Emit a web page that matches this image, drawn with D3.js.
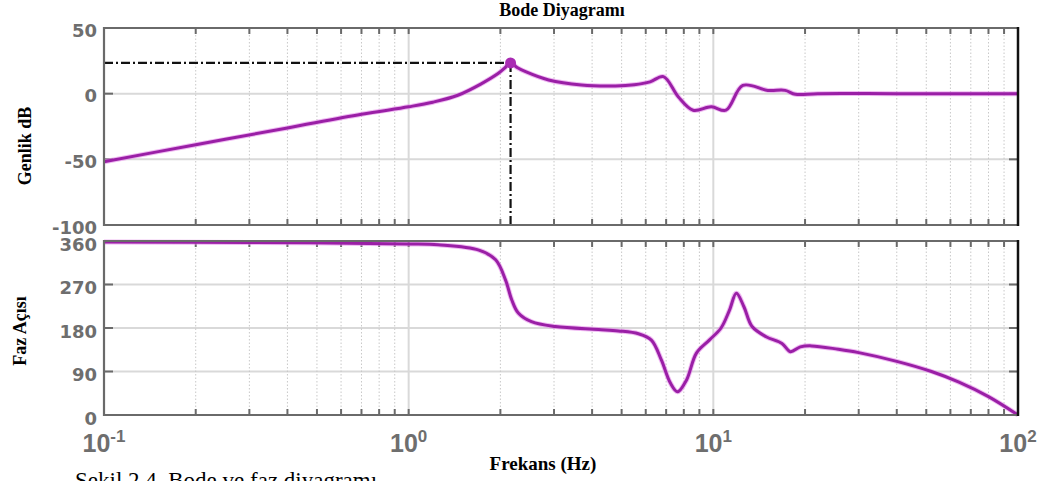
<!DOCTYPE html>
<html>
<head>
<meta charset="utf-8">
<script src="https://cdn.jsdelivr.net/npm/d3@7"></script>
<style>
  body { margin: 0; background: #fff; }
  svg { display: block; }
</style>
</head>
<body>
<div id="chart"></div>
<script>
// magnitude curve (Hz, dB)
const magFreq = [0.1, 0.2, 0.4, 0.7, 1.0, 1.2, 1.45, 1.73, 1.97, 2.06, 2.16, 2.27, 2.42, 2.88, 3.69, 4.77, 5.5, 6.2, 6.86, 7.68, 8.58, 9.85, 11.0, 12.5, 15.1, 17.2, 18.6, 22, 40, 100];
const magDb   = [-51.8, -38.9, -26.1, -15.7, -10, -6.5, -1.2, 7.5, 15.5, 19.2, 23.4, 19.9, 16.7, 10.4, 6.6, 5.9, 6.8, 9, 13, -2.5, -12.6, -10, -12.6, 6.3, 2.5, 2.5, -0.5, 0, 0, 0];

// phase curve (Hz, deg)
const phaseFreq = [0.1, 0.3, 1.0, 1.25, 1.7, 1.93, 2.08, 2.18, 2.29, 2.53, 3.03, 4.2, 4.88, 5.68, 6.26, 6.75, 7.23, 7.63, 8.16, 8.8, 9.7, 10.6, 11.3, 11.9, 12.6, 13.4, 14.9, 16.8, 17.9, 19.3, 21, 25.7, 30, 40, 52, 64, 80, 100];
const phaseDeg  = [358, 357, 354, 352, 341, 321, 279, 238, 211, 193, 183, 177, 174, 168, 155, 114, 66, 48, 72, 128, 155, 180, 217, 252, 224, 183, 162, 148, 131, 141, 143, 136, 129, 111, 90, 68, 38, 0];

const peakFreq = 2.16, peakDb = 23.4;

const magTicks = [50, 0, -50, -100];
const phaseTicks = [0, 90, 180, 270, 360];
const decades = [-1, 0, 1, 2];

const title = "Bode Diyagramı";
const magLabel = "Genlik dB";
const phaseLabel = "Faz Açısı";
const xLabel = "Frekans (Hz)";
const caption = "Şekil 2.4. Bode ve faz diyagramı";

var width = 1047, height = 481;
var left = 104, right = 1018;
var lineColor = "#9a1fa6";
var frameColor = "#6a6a6a";
var gridColor = "#d9d9d9";
var labelColor = "#6e6e6e";

var svg = d3.select("#chart").append("svg")
    .attr("width", width)
    .attr("height", height);

var x = d3.scaleLog().domain([0.1, 100]).range([left, right]);
var yMag = d3.scaleLinear().domain([-100, 50]).range([225, 28]);
var yPh = d3.scaleLinear().domain([0, 360]).range([415, 241]);

var minors = [];
for (let e = -1; e < 2; e++) {
    for (let k = 2; k <= 9; k++) minors.push(k * Math.pow(10, e));
}
var majors = [1, 10];

function panel(y, ticks, labelDy) {
    var g = svg.append("g");
    var y0 = y.range()[0], y1 = y.range()[1];

    g.selectAll(".hgrid").data(ticks.filter(t => y(t) > y1 + 2 && y(t) < y0 - 2)).join("line")
        .attr("x1", left).attr("x2", right)
        .attr("y1", d => y(d)).attr("y2", d => y(d))
        .attr("stroke", gridColor).attr("stroke-width", 2);

    g.selectAll(".minor").data(minors).join("line")
        .attr("x1", d => x(d)).attr("x2", d => x(d))
        .attr("y1", y1).attr("y2", y0)
        .attr("stroke", "#c8c8c8").attr("stroke-width", 1)
        .attr("stroke-dasharray", "1.5,2");

    g.selectAll(".major").data(majors).join("line")
        .attr("x1", d => x(d)).attr("x2", d => x(d))
        .attr("y1", y1).attr("y2", y0)
        .attr("stroke", gridColor).attr("stroke-width", 2);

    // inward ticks on all four sides
    var xt = minors.concat(majors);
    g.selectAll(".tb").data(xt).join("line")
        .attr("x1", d => x(d)).attr("x2", d => x(d))
        .attr("y1", y1).attr("y2", y1 + 6)
        .attr("stroke", frameColor).attr("stroke-width", 2);
    g.selectAll(".tt").data(xt).join("line")
        .attr("x1", d => x(d)).attr("x2", d => x(d))
        .attr("y1", y0).attr("y2", y0 - 6)
        .attr("stroke", frameColor).attr("stroke-width", 2);
    g.selectAll(".tl").data(ticks).join("line")
        .attr("x1", left).attr("x2", left + 9)
        .attr("y1", d => y(d)).attr("y2", d => y(d))
        .attr("stroke", frameColor).attr("stroke-width", 2);
    g.selectAll(".tr").data(ticks).join("line")
        .attr("x1", right).attr("x2", right - 9)
        .attr("y1", d => y(d)).attr("y2", d => y(d))
        .attr("stroke", frameColor).attr("stroke-width", 2);

    g.selectAll(".ylab").data(ticks).join("text")
        .attr("x", left - 7)
        .attr("y", d => y(d) + labelDy)
        .attr("text-anchor", "end")
        .style("font-family", "'DejaVu Sans', sans-serif")
        .style("font-weight", "bold")
        .style("font-size", "18px")
        .style("fill", labelColor)
        .text(d => d);

    return g;
}

var gMag = panel(yMag, magTicks, 8.5);
var gPh = panel(yPh, phaseTicks, 9.5);

// dash-dot guides to the peak
gMag.append("line")
    .attr("x1", left).attr("x2", x(peakFreq))
    .attr("y1", yMag(peakDb)).attr("y2", yMag(peakDb))
    .attr("stroke", "#111").attr("stroke-width", 2.2)
    .attr("stroke-dasharray", "9,3,2,3");
gMag.append("line")
    .attr("x1", x(peakFreq)).attr("x2", x(peakFreq))
    .attr("y1", yMag(peakDb)).attr("y2", yMag(-100))
    .attr("stroke", "#111").attr("stroke-width", 2.2)
    .attr("stroke-dasharray", "9,3,2,3");

function curve(g, fs, vs, y) {
    var pts = fs.map((f, i) => [f, vs[i]]);
    var line = d3.line()
        .x(d => x(d[0])).y(d => y(d[1]))
        .curve(d3.curveCatmullRom.alpha(0.5));
    g.append("path").attr("d", line(pts))
        .attr("fill", "none").attr("stroke", "#e58bea")
        .attr("stroke-width", 5).attr("opacity", 0.6);
    g.append("path").attr("d", line(pts))
        .attr("fill", "none").attr("stroke", lineColor)
        .attr("stroke-width", 3);
}
curve(gMag, magFreq, magDb, yMag);
curve(gPh, phaseFreq, phaseDeg, yPh);

gMag.append("circle")
    .attr("cx", x(peakFreq)).attr("cy", yMag(peakDb))
    .attr("r", 5.5).attr("fill", "#a92bb3");

// frames
[yMag, yPh].forEach(y => {
    var y0 = y.range()[0], y1 = y.range()[1];
    svg.append("path")
        .attr("d", `M${right},${y1}H${left}V${y0}H${right}`)
        .attr("fill", "none").attr("stroke", frameColor).attr("stroke-width", 2.2);
    svg.append("line")
        .attr("x1", right).attr("x2", right).attr("y1", y1 - 1).attr("y2", y0 + 1)
        .attr("stroke", "#111").attr("stroke-width", 2.5);
});

// x tick labels 10^n
var xl = svg.selectAll(".xlab").data(decades).join("text")
    .attr("x", d => x(Math.pow(10, d)))
    .attr("y", 452)
    .attr("text-anchor", "middle")
    .style("font-family", "'Liberation Sans', Arial, sans-serif")
    .style("font-weight", "bold")
    .style("font-size", "25px")
    .style("fill", labelColor);
xl.append("tspan").text("10");
xl.append("tspan").attr("dy", -10).style("font-size", "17px").text(d => d);

var serif = "'Liberation Serif', 'Times New Roman', serif";

svg.append("text")
    .attr("x", 562).attr("y", 16)
    .attr("text-anchor", "middle")
    .style("font-family", serif).style("font-weight", "bold").style("font-size", "18px")
    .text(title);

svg.append("text")
    .attr("transform", "translate(31,146) rotate(-90)")
    .attr("text-anchor", "middle")
    .style("font-family", serif).style("font-weight", "bold").style("font-size", "18px")
    .text(magLabel);

svg.append("text")
    .attr("transform", "translate(26,331) rotate(-90)")
    .attr("text-anchor", "middle")
    .style("font-family", serif).style("font-weight", "bold").style("font-size", "18px")
    .text(phaseLabel);

svg.append("text")
    .attr("x", 543).attr("y", 470)
    .attr("text-anchor", "middle")
    .style("font-family", serif).style("font-weight", "bold").style("font-size", "19px")
    .text(xLabel);

svg.append("text")
    .attr("x", 75).attr("y", 488)
    .style("font-family", serif).style("font-size", "23px")
    .text(caption);
</script>
</body>
</html>
